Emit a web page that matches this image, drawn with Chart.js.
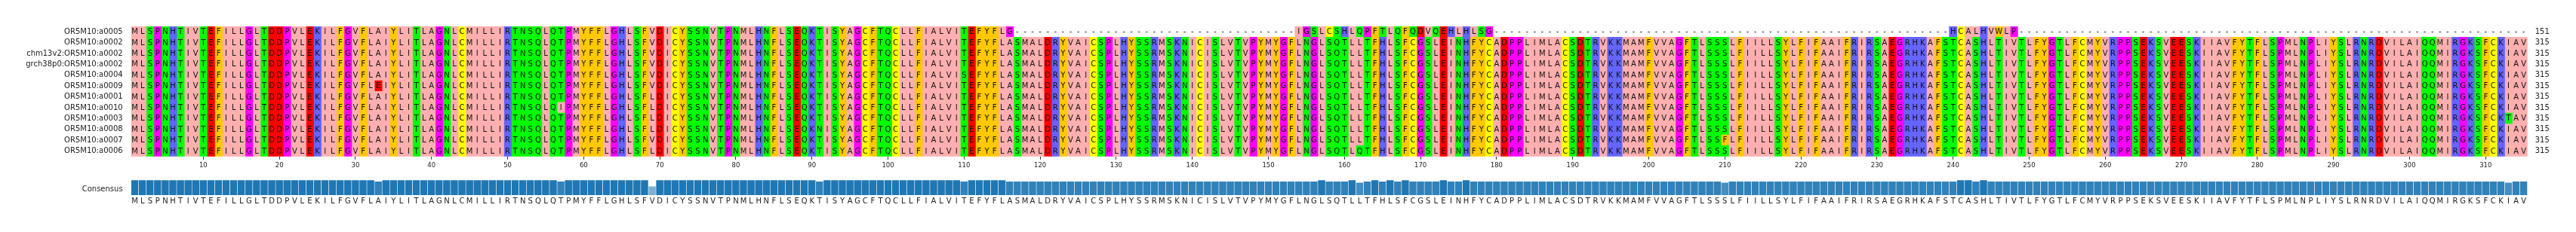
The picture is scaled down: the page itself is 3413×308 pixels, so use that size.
<!DOCTYPE html>
<html>
<head>
<meta charset="utf-8">
<script src="https://cdn.jsdelivr.net/npm/chart.js@4.4.0/dist/chart.umd.min.js"></script>
<style>
body { margin: 0; background: #fff; }
#wrap { position: relative; width: 3413px; height: 308px; }
#aln { position: absolute; left: 0; top: 0; }
#cons { position: absolute; left: 0; top: 222px; }
</style>
</head>
<body>
<div id="wrap">
<canvas id="aln" width="3413" height="232"></canvas>
<canvas id="cons" width="3413" height="86"></canvas>
</div>
<script>
// sequence names, top to bottom
var seqNames = ['OR5M10:a0005', 'OR5M10:a0002', 'chm13v2:OR5M10:a0002', 'grch38p0:OR5M10:a0002',
  'OR5M10:a0004', 'OR5M10:a0009', 'OR5M10:a0001', 'OR5M10:a0010', 'OR5M10:a0003',
  'OR5M10:a0008', 'OR5M10:a0007', 'OR5M10:a0006'];
var seqLengths = ['151', '315', '315', '315', '315', '315', '315', '315', '315', '315', '315', '315'];

// consensus, 315 columns
var consensus =
  'MLSPNHTIVTEFILLGLTDDPVL' +
  'EKILFGVFLAIYLITLAGNLCMILLIRTNSQLQTPMYFF' +
  'LGHLSFVDICYSSNVTPNMLHNFLSEQKTISYAGCFTQCLLFIA' +
  'LVITEFYFLASMALDRYVAICSPLHYSSRMSKNICISLVTVPYM' +
  'YGFLNGLSQTLLTFHLSFCGSLEINHFYCADPPLIMLACSDTR' +
  'VKKMAMFVVAGFTLSSSLFIILLSYLFIFAAIFRIRSAEGRHKA' +
  'FSTCASHLTIVTLFYGTLFCMYVRPPSEKSVEESKIIAVFYTFL' +
  'SPMLNPLIYSLRNRDVILAIQQMIRGKSFCKIAV';

// the short first sequence (with gaps)
var seqA0005 =
  'MLSPNHTIVTEFILLGLTDDPVL' +
  'EKILFGVFLAIYLITLAGNLCMILLIRTNSQLQTPMYFF' +
  'LGHLSFVDICYSSNVTPNMLHNFLSEQKTISYAGCFTQCLLFIA' +
  'LVITEFYFLG' +
  '-------------------------------------' +
  'IGSLCSHLQPFTLQFQDVQEHLHLSG' +
  '------------------------------------------------------------' +
  'HCALHVWLP' +
  '-------------------------------------------------------------------';

// [row, position, residue] where a full-length sequence differs from the consensus
var substitutions = [
  [5, 33, 'E'], [7, 57, 'I'],
  [6, 69, 'L'], [7, 69, 'L'], [8, 69, 'L'], [9, 69, 'L'], [11, 69, 'L'],
  [9, 91, 'N'], [4, 110, 'S'], [11, 162, 'Q'], [10, 210, 'F'], [8, 313, 'T']
];

var tickPositions = [10, 20, 30, 40, 50, 60, 70, 80, 90, 100, 110, 120, 130, 140, 150, 160,
  170, 180, 190, 200, 210, 220, 230, 240, 250, 260, 270, 280, 290, 300, 310];

// zappo colours
var zappo = {
  A: '#ffafaf', I: '#ffafaf', L: '#ffafaf', M: '#ffafaf', V: '#ffafaf',
  F: '#ffc800', W: '#ffc800', Y: '#ffc800',
  K: '#6464ff', R: '#6464ff', H: '#6464ff',
  D: '#ff0000', E: '#ff0000',
  S: '#00ff00', T: '#00ff00', N: '#00ff00', Q: '#00ff00',
  G: '#ff00ff', P: '#ff00ff',
  C: '#ffff00'
};

var nCols = consensus.length;
var rows = [];
for (var r = 0; r < seqNames.length; r++) {
  rows.push((r === 0 ? seqA0005 : consensus).split(''));
}
substitutions.forEach(function (s) { rows[s[0]][s[1] - 1] = s[2]; });

// identity with the consensus for the bar under the alignment
var identity = [];
for (var p = 0; p < nCols; p++) {
  var same = 0;
  for (var r = 0; r < rows.length; r++) if (rows[r][p] === consensus[p]) same++;
  identity.push(same / rows.length);
}

Chart.defaults.font.family = '"DejaVu Sans", sans-serif';
Chart.defaults.color = '#222';

// one dataset per column, one floating bar per sequence
var alnSets = [];
for (var p = 1; p <= nCols; p++) {
  var data = [], colors = [];
  for (var r = 0; r < rows.length; r++) {
    var aa = rows[r][p - 1];
    data.push(aa === '-' ? null : [p - 0.5, p + 0.5]);
    colors.push(aa === '-' ? 'rgba(0,0,0,0)' : zappo[aa]);
  }
  alnSets.push({
    data: data, backgroundColor: colors, borderWidth: 0,
    grouped: false, barPercentage: 1, categoryPercentage: 1
  });
}

var letterPlugin = {
  id: 'letters',
  afterDatasetsDraw: function (chart) {
    var ctx = chart.ctx, xs = chart.scales.x, ys = chart.scales.y;
    ctx.save();
    ctx.font = '10px "DejaVu Sans"';
    ctx.textAlign = 'center';
    ctx.textBaseline = 'middle';
    ctx.fillStyle = '#111';
    for (var r = 0; r < rows.length; r++) {
      for (var p = 1; p <= nCols; p++) {
        ctx.fillText(rows[r][p - 1], xs.getPixelForValue(p), ys.getPixelForValue(r) + 0.5);
      }
    }
    ctx.restore();
  }
};

new Chart(document.getElementById('aln'), {
  type: 'bar',
  data: { labels: seqNames, datasets: alnSets },
  plugins: [letterPlugin],
  options: {
    indexAxis: 'y',
    responsive: false,
    animation: false,
    layout: { padding: { top: 35, left: 0, right: 0, bottom: 0 } },
    plugins: { legend: { display: false }, tooltip: { enabled: false } },
    scales: {
      x: {
        type: 'linear', min: 0.5, max: nCols + 0.5,
        afterBuildTicks: function (s) { s.ticks = tickPositions.map(function (v) { return { value: v }; }); },
        afterFit: function (s) { s.height = 24.2; },
        grid: { drawOnChartArea: false, drawTicks: true, tickLength: 4, color: '#333', lineWidth: 1 },
        border: { display: false },
        ticks: { font: { size: 8.5 }, padding: 3, maxRotation: 0, autoSkip: false, color: '#222' }
      },
      y: {
        type: 'category', offset: true, position: 'left',
        afterFit: function (s) { s.width = 173.6; },
        grid: { display: false, drawTicks: false },
        border: { display: false },
        ticks: { font: { size: 10 }, padding: 11, color: '#222', autoSkip: false }
      },
      y2: {
        type: 'category', labels: seqLengths, offset: true, position: 'right',
        afterFit: function (s) { s.width = 64.3; },
        grid: { display: false, drawTicks: false },
        border: { display: false },
        ticks: { font: { size: 10 }, padding: 10, color: '#222', autoSkip: false }
      }
    }
  }
});

new Chart(document.getElementById('cons'), {
  type: 'bar',
  data: {
    labels: consensus.split(''),
    datasets: [{
      data: identity,
      backgroundColor: identity.map(function (v) { return 'rgba(31,119,180,' + v + ')'; }),
      borderColor: 'rgba(255,255,255,0.85)',
      borderWidth: 0.6,
      barPercentage: 1, categoryPercentage: 1
    }]
  },
  options: {
    responsive: false,
    animation: false,
    layout: { padding: { top: 8, left: 0, right: 64.3, bottom: 0 } },
    plugins: { legend: { display: false }, tooltip: { enabled: false } },
    scales: {
      x: {
        type: 'category',
        afterFit: function (s) { s.height = 49; },
        grid: { display: false, drawTicks: false },
        border: { display: false },
        ticks: { font: { size: 10 }, padding: 2, autoSkip: false, maxRotation: 0, minRotation: 0, color: '#222' }
      },
      y: {
        type: 'linear', min: 0, max: 1,
        afterBuildTicks: function (s) { s.ticks = [{ value: 0.4 }]; },
        afterFit: function (s) { s.width = 173.6; },
        grid: { display: false, drawTicks: false },
        border: { display: false },
        ticks: { font: { size: 10 }, padding: 11, color: '#222', callback: function () { return 'Consensus'; } }
      }
    }
  }
});
</script>
</body>
</html>
